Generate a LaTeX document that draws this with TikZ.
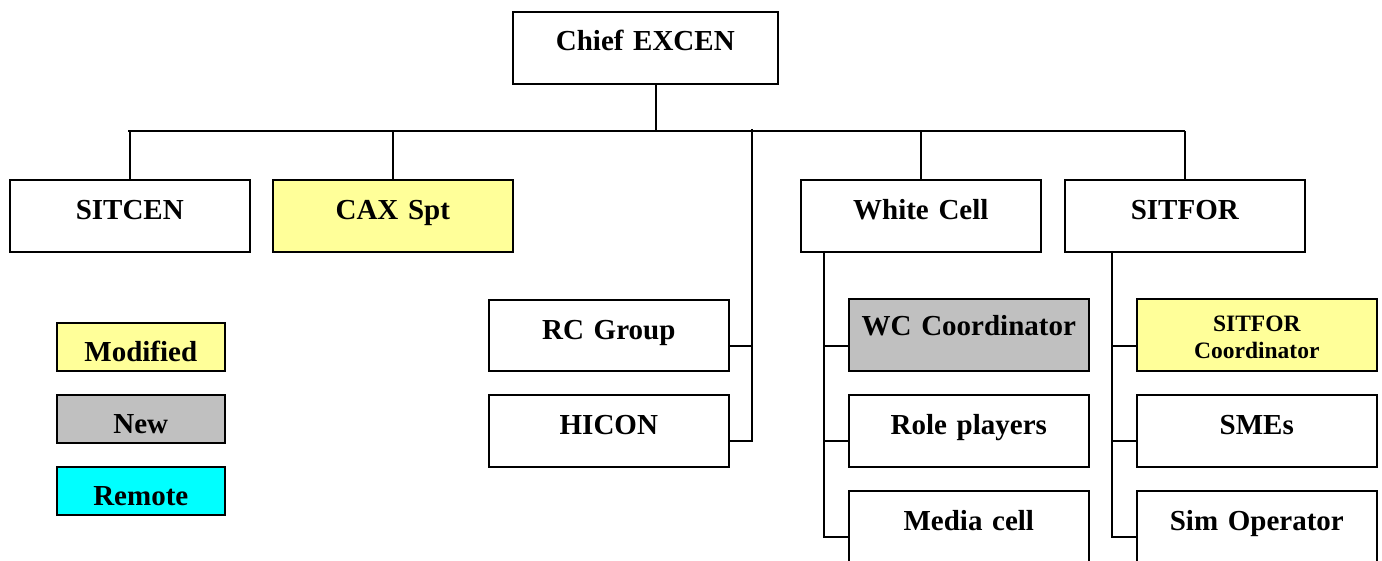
\documentclass[tikz,border=0pt]{standalone}
\usepackage{fontspec}
\setmainfont{Liberation Serif}
\definecolor{modyellow}{HTML}{FFFF99}
\definecolor{newgray}{HTML}{C0C0C0}
\definecolor{remcyan}{HTML}{00FFFF}
\tikzset{
  orgbox/.style={draw, line width=1.6pt, rectangle, inner sep=0pt, anchor=north west,
    text width=#1, align=center, font=\bfseries\fontsize{29}{32}\selectfont,
    text height=40pt, text depth=32pt},
  orgbox/.default=240pt,
  legbox/.style={orgbox=168pt, text height=39pt, text depth=9pt},
  link/.style={line width=1.6pt},
}
\begin{document}
\begin{tikzpicture}[x=1pt,y=-1pt]
\useasboundingbox (0,0) rectangle (1382,561);
\clip (0,0) rectangle (1382,561);
% top
\node[orgbox=265pt, text height=39pt, text depth=33pt] (chief) at (512,11) {Chief EXCEN};
% level 1
\node[orgbox] (sitcen) at (9,179) {SITCEN};
\node[orgbox, fill=modyellow] (cax) at (272,179) {CAX Spt};
\node[orgbox] (white) at (800,179) {White Cell};
\node[orgbox] (sitfor) at (1064,179) {SITFOR};
% RC / HICON
\node[orgbox, text height=40pt, text depth=31pt] (rc) at (488,299) {RC Group};
\node[orgbox] (hicon) at (488,394) {HICON};
% White cell children
\node[orgbox, fill=newgray, text height=37pt, text depth=35pt] (wccoord) at (848,298) {WC Coordinator};
\node[orgbox] (role) at (848,394) {Role players};
\node[orgbox, text depth=60pt] (media) at (848,490) {Media cell};
% SITFOR children
\node[orgbox, fill=modyellow, font=\bfseries\fontsize{23.5}{27}\selectfont, text height=33pt, text depth=39pt] (sfcoord) at (1136,298) {SITFOR\\Coordinator};
\node[orgbox] (smes) at (1136,394) {SMEs};
\node[orgbox, text depth=60pt] (simop) at (1136,490) {Sim Operator};
% legend
\node[legbox, fill=modyellow] (lmod) at (56,322) {Modified};
\node[legbox, fill=newgray] (lnew) at (56,394) {New};
\node[legbox, fill=remcyan] (lrem) at (56,466) {Remote};
% connectors
\coordinate (bustop) at (656,131);
\coordinate (busL) at (128,131);
\coordinate (busR) at (1185,131);
\coordinate (rcbus) at (752,131);
\coordinate (wcx) at (824,251);
\coordinate (sfx) at (1112,251);
\draw[link] (chief.south -| bustop) -- (bustop);
\draw[link] (busL) -- (busR);
\draw[link] (sitcen.north |- busL) -- (sitcen.north);
\draw[link] (cax.north |- busL) -- (cax.north);
\draw[link] (white.north |- busL) -- (white.north);
\draw[link] (sitfor.north |- busL) -- (sitfor.north);
\draw[link] ([yshift=2pt]rcbus) |- ([yshift=-47pt]hicon.north east);
\draw[link] ([yshift=-47pt]rc.north east) -- ([yshift=-47pt]rc.north east -| rcbus);
\draw[link] (wcx) |- ([yshift=-47pt]media.north west);
\draw[link] ([yshift=-48pt]wccoord.north west) -- ([yshift=-48pt]wccoord.north west -| wcx);
\draw[link] ([yshift=-47pt]role.north west) -- ([yshift=-47pt]role.north west -| wcx);
\draw[link] (sfx) |- ([yshift=-47pt]simop.north west);
\draw[link] ([yshift=-48pt]sfcoord.north west) -- ([yshift=-48pt]sfcoord.north west -| sfx);
\draw[link] ([yshift=-47pt]smes.north west) -- ([yshift=-47pt]smes.north west -| sfx);
\end{tikzpicture}
\end{document}
